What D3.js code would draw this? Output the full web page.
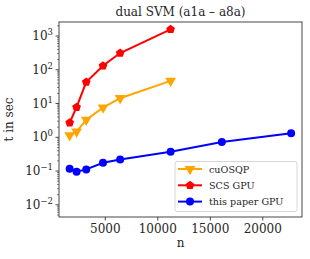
<!DOCTYPE html>
<html><head><meta charset="utf-8">
<script src="https://cdn.jsdelivr.net/npm/d3@7"></script>
<style>body{margin:0;background:#fff}svg{display:block}</style>
</head><body><svg id="c" width="310" height="259" font-family="'DejaVu Serif', 'Liberation Serif', serif" fill="#262626"></svg>
<script>
const nVals = [1605, 2265, 3185, 4781, 6414, 11220, 16100, 22696];
const cuOSQP = [1.15, 1.48, 3.3, 7.6, 14.4, 47];
const scsGPU = [2.7, 7.8, 43, 131, 313, 1580];
const thisPaper = [0.118, 0.096, 0.112, 0.177, 0.22, 0.376, 0.73, 1.31];
const xTicks = [5000, 10000, 15000, 20000];
const yExps = [-2, -1, 0, 1, 2, 3];
const seriesNames = ["cuOSQP", "SCS GPU", "this paper GPU"];
const seriesColors = ["orange", "red", "blue"];

const FF = "'DejaVu Serif', 'Liberation Serif', serif";
const svg = d3.select("#c");
const L = 59, R = 302, T = 22, B = 217;
const x = d3.scaleLinear().domain([590, 23733]).range([L, R]);
const y = d3.scaleLog().domain([Math.pow(10, -2.36), Math.pow(10, 3.415)]).range([B, T]);

svg.append("rect").attr("x", L).attr("y", T).attr("width", R - L).attr("height", B - T)
  .attr("fill", "none").attr("stroke", "#333").attr("stroke-width", 0.9);

const gx = svg.append("g").attr("transform", `translate(0,${B})`);
xTicks.forEach(v => {
  gx.append("line").attr("x1", x(v)).attr("x2", x(v)).attr("y1", 0).attr("y2", 3.5).attr("stroke", "#333").attr("stroke-width", 0.9);
  gx.append("text").attr("font-family", FF).attr("x", x(v)).attr("y", 16).attr("text-anchor", "middle").attr("font-size", 12).text(v);
});
svg.append("text").attr("font-family", FF).attr("x", (L + R) / 2).attr("y", 247).attr("text-anchor", "middle").attr("font-size", 12).text("n");

const gy = svg.append("g");
yExps.forEach(e => {
  const v = Math.pow(10, e);
  gy.append("line").attr("x1", L).attr("x2", L - 3.5).attr("y1", y(v)).attr("y2", y(v)).attr("stroke", "#333").attr("stroke-width", 0.9);
  const t = gy.append("text").attr("font-family", FF).attr("x", L - 6).attr("y", y(v) + 4).attr("text-anchor", "end").attr("font-size", 12);
  t.append("tspan").text("10");
  t.append("tspan").attr("dy", -5).attr("font-size", 8.5).text(e < 0 ? "\u2212" + Math.abs(e) : e);
});
for (let e = -3; e <= 3; e++) {
  for (let m = 2; m <= 9; m++) {
    const v = m * Math.pow(10, e);
    if (v < y.domain()[0] || v > y.domain()[1]) continue;
    gy.append("line").attr("x1", L).attr("x2", L - 2).attr("y1", y(v)).attr("y2", y(v)).attr("stroke", "#333").attr("stroke-width", 0.6);
  }
}
svg.append("text").attr("font-family", FF).attr("transform", `translate(13,${(T + B) / 2}) rotate(-90)`).attr("text-anchor", "middle").attr("font-size", 12).text("t in sec");

svg.append("text").attr("font-family", FF).attr("x", (L + R) / 2).attr("y", 16).attr("text-anchor", "middle").attr("font-size", 12).text("dual SVM (a1a \u2013 a8a)");

const symbols = [
  d3.symbol().type(d3.symbolTriangle).size(50),
  d3.symbol().type({draw(ctx, size){ const r = Math.sqrt(size/2.4); for(let i=0;i<5;i++){const a=-Math.PI/2+i*2*Math.PI/5; const px=r*Math.cos(a), py=r*Math.sin(a); i?ctx.lineTo(px,py):ctx.moveTo(px,py);} ctx.closePath(); }}).size(50),
  d3.symbol().type(d3.symbolCircle).size(50)
];
const rotations = [180, 0, 0];

const data = [cuOSQP, scsGPU, thisPaper];
const line = d3.line().x(d => x(d[0])).y(d => y(d[1]));
data.forEach((vals, i) => {
  const pts = vals.map((v, j) => [nVals[j], v]);
  svg.append("path").datum(pts).attr("d", line).attr("fill", "none").attr("stroke", seriesColors[i]).attr("stroke-width", 2);
  svg.selectAll(null).data(pts).enter().append("path")
    .attr("d", symbols[i]).attr("fill", seriesColors[i])
    .attr("transform", d => `translate(${x(d[0])},${y(d[1])}) rotate(${rotations[i]})`);
});

const lg = svg.append("g");
lg.append("rect").attr("x", 175).attr("y", 161.5).attr("width", 122).attr("height", 50).attr("rx", 2)
  .attr("fill", "#fff").attr("fill-opacity", 0.8).attr("stroke", "#ccc").attr("stroke-width", 0.8);
seriesNames.forEach((s, i) => {
  const yy = 169 + i * 16.3;
  lg.append("line").attr("x1", 178).attr("x2", 202).attr("y1", yy).attr("y2", yy).attr("stroke", seriesColors[i]).attr("stroke-width", 2);
  lg.append("path").attr("d", symbols[i]).attr("fill", seriesColors[i]).attr("transform", `translate(190,${yy}) rotate(${rotations[i]})`);
  lg.append("text").attr("font-family", FF).attr("x", 209).attr("y", yy + 3.5).attr("font-size", 9.6).text(s);
});
</script></body></html>
